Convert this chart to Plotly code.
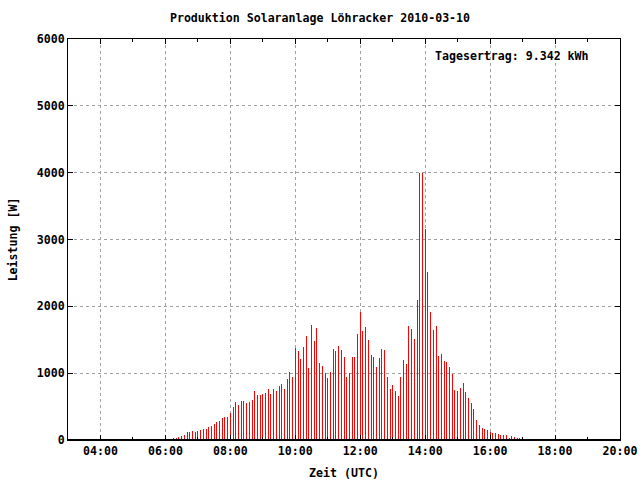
import pandas as pd
import plotly.graph_objects as go

# 5-minute power readings [W], starting 06:05 UTC
start_time = "2010-03-10 06:05"
interval = "5min"
power_w = [
    20, 20, 35, 35, 50, 65, 80, 125, 125, 140,
    125, 140, 155, 170, 170, 200, 215, 245, 275, 290,
    335, 350, 350, 410, 500, 575, 530, 590, 590, 560,
    575, 605, 740, 680, 680, 695, 710, 770, 695, 770,
    740, 815, 845, 770, 920, 1025, 950, 1380, 1335, 1205,
    1395, 1560, 1070, 1725, 1485, 1680, 1145, 1100, 1010, 935,
    1025, 1365, 1335, 1410, 1350, 1235, 950, 1010, 1235, 1235,
    1590, 1920, 1635, 1695, 1500, 1275, 1235, 1085, 1220, 1365,
    1350, 940, 765, 820, 735, 655, 940, 1200, 1140, 1705,
    1655, 1505, 2095, 3990, 3990, 3160, 2510, 1910, 1645, 1705,
    1255, 1285, 1185, 1170, 1090, 990, 750, 740, 785, 855,
    725, 635, 560, 470, 305, 230, 185, 170, 155, 125,
    110, 110, 95, 80, 80, 80, 35, 65, 50, 35,
    35, 35, 15,
]
times = pd.date_range(start_time, periods=len(power_w), freq=interval)

title_text = "Produktion Solaranlage Löhracker 2010-03-10"
x_title = "Zeit (UTC)"
y_title = "Leistung [W]"
yield_text = "Tagesertrag: 9.342 kWh"
x_range = ["2010-03-10 03:00", "2010-03-10 20:00"]
y_range = [0, 6000]

FONT = dict(family="DejaVu Sans Mono", size=11.6, color="black", weight="bold")

# one screen pixel expressed in milliseconds of the time axis
plot_px = 640 - 68 - 20
px_ms = 17 * 3600 * 1000 / plot_px

fig = go.Figure()
fig.add_trace(go.Bar(
    x=times, y=power_w,
    width=px_ms,
    marker=dict(color="rgba(255,0,0,0.998)", line=dict(width=0)),
    showlegend=False,
))

fig.update_layout(
    width=640, height=480,
    margin=dict(l=68, r=20, t=39, b=40),
    paper_bgcolor="white", plot_bgcolor="white",
    font=FONT,
    title=dict(text=title_text, x=0.5, xanchor="center", y=1 - 18 / 480,
               yanchor="middle", font=FONT, automargin=False),
    bargap=0,
)

fig.update_xaxes(
    type="date", range=x_range, automargin=False,
    tick0="2010-03-10 04:00", dtick=2 * 3600 * 1000,
    tickformat="%H:%M",
    ticks="inside", ticklen=5, tickcolor="black", tickwidth=1,
    minor=dict(dtick=3600 * 1000, ticks="inside", ticklen=3, tickcolor="black", showgrid=False),
    showline=True, linecolor="black", linewidth=1, mirror="ticks",
    showgrid=True, gridcolor="#a0a0a0", griddash="3px,3px", gridwidth=1,
    title=dict(text=x_title, font=FONT, standoff=11),
    tickfont=FONT,
)
fig.update_yaxes(
    range=y_range, dtick=1000, automargin=False,
    ticks="inside", ticklen=5, tickcolor="black",
    showline=True, linecolor="black", linewidth=1, mirror="ticks",
    showgrid=True, gridcolor="#a0a0a0", griddash="3px,3px", gridwidth=1,
    zeroline=False,
    title=dict(text=y_title, font=FONT, standoff=16),
    tickfont=FONT,
)

fig.add_shape(type="line", xref="paper", yref="y", x0=0, x1=1, y0=0, y1=0,
              line=dict(color="black", width=2))

fig.add_annotation(
    text=yield_text, xref="paper", yref="paper",
    x=(433 - 68) / 552, y=1 - (56 - 39) / 401,
    xanchor="left", yanchor="middle", showarrow=False, font=FONT,
)

fig.write_html("out.html", config={"displayModeBar": False},
               post_script="document.body.style.margin='0';document.body.style.padding='0';")
